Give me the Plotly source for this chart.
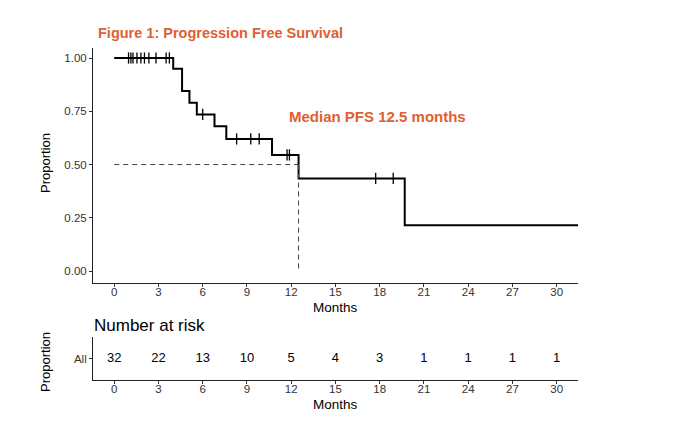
import numpy as np
import plotly.graph_objects as go

# ---- data ----
step_times = [0, 4.0, 4.6, 5.1, 5.6, 6.8, 7.6, 10.7, 12.5, 19.7]
step_surv = [1.0, 0.95, 0.845, 0.79, 0.735, 0.68, 0.62, 0.545, 0.435, 0.215]
follow_up_end = 31.45
censor_times = [0.97, 1.13, 1.27, 1.54, 1.81, 2.05, 2.35, 2.83, 3.52, 3.74,
                6.0, 8.3, 9.26, 9.83, 11.72, 11.88, 17.73, 18.92]
median_pfs = 12.5
median_level = 0.5
risk_times = [0, 3, 6, 9, 12, 15, 18, 21, 24, 27, 30]
risk_counts = [32, 22, 13, 10, 5, 4, 3, 1, 1, 1, 1]
y_ticks = [0.0, 0.25, 0.5, 0.75, 1.0]
y_tick_labels = ["0.00", "0.25", "0.50", "0.75", "1.00"]
x_ticks = [0, 3, 6, 9, 12, 15, 18, 21, 24, 27, 30]

W, H = 680, 424
ORANGE = "#E0602F"
TICKC = "#333333"
FONT = "Liberation Sans, Arial, sans-serif"

def px_x(p):
    return p / W

def px_y(p):
    return 1 - p / H

# survival level at each censor time
st = np.array(step_times)
ss = np.array(step_surv)
censor_levels = ss[np.searchsorted(st, np.array(censor_times), side="right") - 1]

fig = go.Figure()

# KM curve
fig.add_trace(go.Scatter(
    x=step_times + [follow_up_end], y=step_surv + [step_surv[-1]],
    mode="lines", line=dict(shape="hv", color="black", width=2),
    xaxis="x", yaxis="y", hoverinfo="skip"))

# censor marks
fig.add_trace(go.Scatter(
    x=censor_times, y=censor_levels.tolist(), mode="markers",
    marker=dict(symbol="line-ns", size=8, line=dict(color="black", width=1.3)),
    xaxis="x", yaxis="y", hoverinfo="skip"))

# median lines
fig.add_trace(go.Scatter(
    x=[0, median_pfs], y=[median_level, median_level], mode="lines",
    line=dict(color="#444444", width=1, dash="5px,4px"),
    xaxis="x", yaxis="y", hoverinfo="skip"))
fig.add_trace(go.Scatter(
    x=[median_pfs, median_pfs], y=[median_level, 0], mode="lines",
    line=dict(color="#444444", width=1, dash="5px,4px"),
    xaxis="x", yaxis="y", hoverinfo="skip"))

# risk table
fig.add_trace(go.Scatter(
    x=risk_times, y=[0] * len(risk_times), mode="text",
    text=[str(c) for c in risk_counts],
    textfont=dict(family=FONT, size=13, color="black"),
    xaxis="x2", yaxis="y2", hoverinfo="skip"))

xr = [-1.44, 31.45]
axis_common = dict(showline=True, linecolor="#222222", linewidth=1,
                   ticks="outside", ticklen=3, tickcolor=TICKC,
                   showgrid=False, zeroline=False,
                   tickfont=dict(family=FONT, size=11.5, color=TICKC))

fig.update_layout(
    width=W, height=H,
    margin=dict(l=0, r=0, t=0, b=0),
    paper_bgcolor="white", plot_bgcolor="white",
    showlegend=False,
    xaxis=dict(domain=[px_x(93), px_x(578)], range=xr, tickvals=x_ticks,
               anchor="y", ticklabelstandoff=-5, **axis_common),
    yaxis=dict(domain=[px_y(283), px_y(48)], range=[-0.056, 1.047],
               tickvals=y_ticks, ticktext=y_tick_labels, anchor="x",
               **axis_common),
    xaxis2=dict(domain=[px_x(93), px_x(578)], range=xr, tickvals=x_ticks,
                anchor="y2", ticklabelstandoff=-5, **axis_common),
    yaxis2=dict(domain=[px_y(380), px_y(337)], range=[-1, 1],
                tickvals=[0], ticktext=["All"], anchor="x2", **axis_common),
)

annotations = [
    dict(text="<b>Figure 1: Progression Free Survival</b>", x=px_x(96), y=px_y(33),
         xanchor="left", yanchor="middle",
         font=dict(family=FONT, size=14.5, color=ORANGE)),
    dict(text="<b>Median PFS 12.5 months</b>", x=px_x(377), y=px_y(116),
         xanchor="center", yanchor="middle",
         font=dict(family=FONT, size=15, color=ORANGE)),
    dict(text="Proportion", x=px_x(45), y=px_y(163), textangle=-90,
         xanchor="center", yanchor="middle",
         font=dict(family=FONT, size=13, color="black")),
    dict(text="Months", x=px_x(335), y=px_y(307), xanchor="center", yanchor="middle",
         font=dict(family=FONT, size=13.5, color="black")),
    dict(text="Number at risk", x=px_x(92), y=px_y(325), xanchor="left", yanchor="middle",
         font=dict(family=FONT, size=17, color="black")),
    dict(text="Proportion", x=px_x(45), y=px_y(362), textangle=-90,
         xanchor="center", yanchor="middle",
         font=dict(family=FONT, size=13, color="black")),
    dict(text="Months", x=px_x(335), y=px_y(404), xanchor="center", yanchor="middle",
         font=dict(family=FONT, size=13.5, color="black")),
]
for a in annotations:
    a.update(xref="paper", yref="paper", showarrow=False)
fig.update_layout(annotations=annotations)

fig.write_html("out.html")
